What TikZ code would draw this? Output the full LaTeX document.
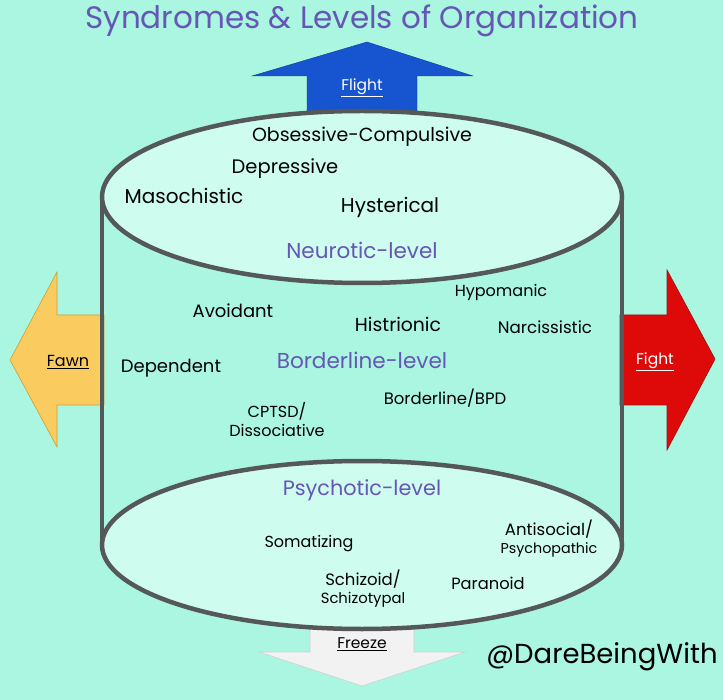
\documentclass[tikz,border=0pt]{standalone}
\usepackage{fontspec}
\setmainfont{Poppins}
\definecolor{bgc}{RGB}{170,246,224}
\definecolor{elc}{RGB}{206,252,239}
\definecolor{rimc}{RGB}{85,88,88}
\definecolor{purp}{RGB}{102,86,182}
\definecolor{flightc}{RGB}{22,84,208}
\definecolor{fawnc}{RGB}{250,204,96}
\definecolor{fawnline}{RGB}{200,160,60}
\definecolor{fightc}{RGB}{222,10,10}
\definecolor{fightline}{RGB}{150,20,20}
\definecolor{freezec}{RGB}{242,242,242}
\definecolor{freezeline}{RGB}{205,210,208}
\newcommand{\fsz}[1]{\fontsize{#1}{#1}\selectfont}
\tikzset{
  lab/.style={text=black, inner sep=0pt},
  lvl/.style={text=purp, inner sep=0pt},
  arrlab/.style={font=\fsz{15.5}, inner sep=0pt},
  rim/.style={draw=rimc, line width=4.5pt},
}
\begin{document}
\begin{tikzpicture}[x=1pt,y=-1pt]
\useasboundingbox (0,0) rectangle (723,700);
\fill[bgc] (0,0) rectangle (723,700);
% title
\node[font=\fsz{31}, text=purp, inner sep=0pt] (title) at (362,21) {Syndromes \& Levels of Organization};
% flight arrow
\fill[flightc, draw=flightc!70!black, line width=0.4pt] (307,120) -- (307,76) -- (252,76) -- (367,42) -- (473,76) -- (417,76) -- (417,120) -- cycle;
% fawn arrow
\fill[fawnc, draw=fawnline, line width=0.6pt] (104,315) -- (57,315) -- (57,272) -- (10,360) -- (57,447) -- (57,405) -- (104,405) -- cycle;
% fight arrow
\fill[fightc, draw=fightline, line width=0.6pt] (620,315) -- (667,315) -- (667,270) -- (715,359) -- (667,450) -- (667,405) -- (620,405) -- cycle;
% freeze arrow
\fill[freezec, draw=freezeline, line width=0.6pt] (310,600) -- (310,652) -- (259,652) -- (362,686) -- (465,652) -- (414,652) -- (414,600) -- cycle;
% cylinder
\draw[rim] (102,197) -- (102,545);
\draw[rim] (622,197) -- (622,545);
\draw[rim, fill=elc] (362,545) ellipse [x radius=260, y radius=84];
\draw[rim, fill=elc] (362,197) ellipse [x radius=260, y radius=86];
% arrow labels
\node[arrlab, text=white] (flight) at (362,88) {\underline{Flight}};
\node[arrlab, text=black, font=\fsz{16}] (fawn) at (68,362) {\underline{Fawn}};
\node[arrlab, text=white] (fight) at (655,362) {\underline{Fight}};
\node[arrlab, text=black] (freeze) at (362,644) {\underline{Freeze}};
% neurotic
\node[lab, font=\fsz{19}] (oc) at (362,137) {Obsessive-Compulsive};
\node[lab, font=\fsz{19.5}] (dep) at (285,169) {Depressive};
\node[lab, font=\fsz{20}] (mas) at (184,196) {Masochistic};
\node[lab, font=\fsz{20}] (hys) at (390,207) {Hysterical};
\node[lvl, font=\fsz{21.5}] (neu) at (362,250) {Neurotic-level};
% borderline
\node[lab, font=\fsz{16}] (hypo) at (501,292) {Hypomanic};
\node[lab, font=\fsz{18}] (avo) at (233,311) {Avoidant};
\node[lab, font=\fsz{18.8}] (his) at (398,324) {Histrionic};
\node[lab, font=\fsz{16.7}] (nar) at (545,327) {Narcissistic};
\node[lab, font=\fsz{18}] (depd) at (171,368) {Dependent};
\node[lvl, font=\fsz{21.6}] (bor) at (362,360) {Borderline-level};
\node[lab, font=\fsz{16.5}] (bpd) at (445,398) {Borderline/BPD};
\node[lab, align=center, font=\fontsize{16}{19}\selectfont] (cptsd) at (277,420) {CPTSD/\\Dissociative};
% psychotic
\node[lvl, font=\fsz{20.8}] (psy) at (362,490) {Psychotic-level};
\node[lab, font=\fsz{16}] (som) at (309,544) {Somatizing};
\node[lab, align=center, font=\fontsize{16.5}{18}\selectfont] (anti) at (549,539) {Antisocial/\\{\fsz{14.3}Psychopathic}};
\node[lab, align=center, font=\fontsize{16.5}{18}\selectfont] (schiz) at (363,589) {Schizoid/\\{\fsz{14.8}Schizotypal}};
\node[lab, font=\fsz{16.3}] (para) at (488,583) {Paranoid};
% handle
\node[font=\fsz{27.5}, text=black, inner sep=0pt] (handle) at (602,657) {@DareBeingWith};
\end{tikzpicture}
\end{document}
